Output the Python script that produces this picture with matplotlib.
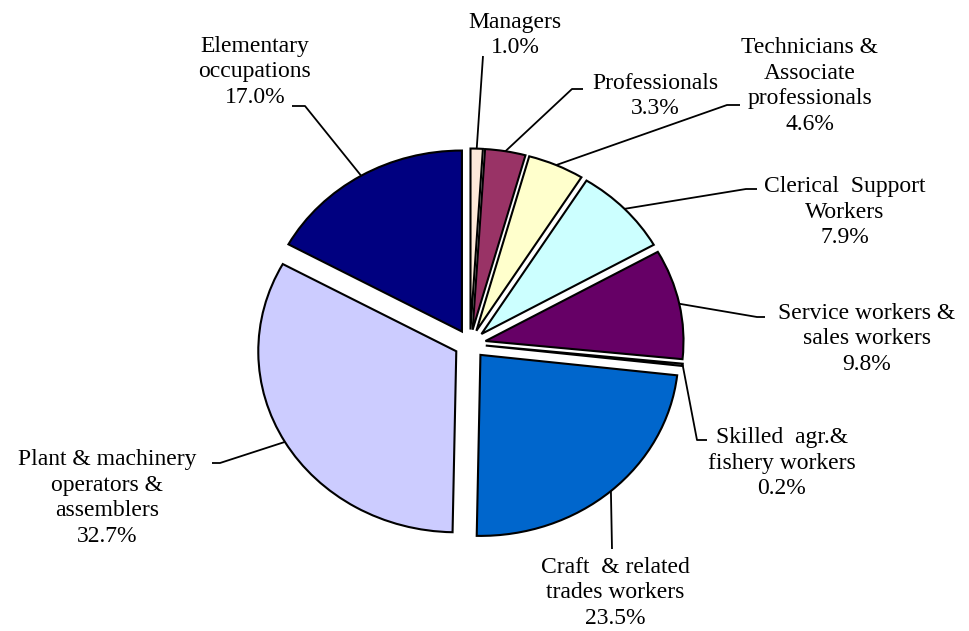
import numpy as np
import matplotlib.pyplot as plt

plt.rcParams['font.family'] = ['Liberation Serif', 'DejaVu Serif']

# occupation groups, clockwise from 12 o'clock
labels = ['Managers', 'Professionals', 'Technicians &\nAssociate\nprofessionals',
          'Clerical  Support\nWorkers', 'Service workers &\nsales workers',
          'Skilled  agr.&\nfishery workers', 'Craft  & related\ntrades workers',
          'Plant & machinery\noperators &\nassemblers', 'Elementary\noccupations']
shares = [1.0, 3.3, 4.6, 7.9, 9.8, 0.2, 23.5, 32.7, 17.0]
colors = ['#FDE9D9', '#993366', '#FFFFCC', '#CCFFFF', '#660066',
          '#FFFFFF', '#0066CC', '#CCCCFF', '#000080']

# pie centre / radii in picture pixels (pie is a bit wider than tall)
CX, CY, RX, RY = 470, 344, 198, 181
W, H = 969, 631

def px(x, y):
    return (x - CX) / RX, (CY - y) / RY

# label block centres and leader line bends (pixels)
label_pos = [(515, 35), (655, 96), (810, 86), (845, 212), (867, 339),
             (782, 463), (615, 593), (107, 498), (255, 72)]
leader_pts = [[(483, 56)],
              [(572, 89), (583, 89)],
              [(727, 105), (740, 105)],
              [(746, 189), (757, 189)],
              [(757, 317), (765, 317)],
              [(697, 440), (707, 440)],
              [(612, 549)],
              [(220, 463), (212, 463)],
              [(305, 106), (292, 106)]]

fig = plt.figure(figsize=(W / 100, H / 100), dpi=100)
ax = fig.add_axes([0, 0, 1, 1])

wedges, _ = ax.pie(shares, colors=colors, startangle=90, counterclock=False,
                   explode=[0.08] * len(shares),
                   wedgeprops=dict(edgecolor='black', linewidth=1.5))
ax.set_aspect('auto')
ax.set_xlim(-CX / RX, (W - CX) / RX)
ax.set_ylim(-(H - CY) / RY, CY / RY)
ax.axis('off')

for w, lab, v, pos, pts in zip(wedges, labels, shares, label_pos, leader_pts):
    mid = np.deg2rad((w.theta1 + w.theta2) / 2)
    x0 = w.center[0] + w.r * np.cos(mid)
    y0 = w.center[1] + w.r * np.sin(mid)
    xs = [x0] + [px(*p)[0] for p in pts]
    ys = [y0] + [px(*p)[1] for p in pts]
    ax.plot(xs, ys, color='black', lw=1.3, solid_capstyle='butt')
    ax.text(*px(*pos), '%s\n%.1f%%' % (lab, v), ha='center', va='center',
            multialignment='center', fontsize=17, linespacing=1.3)

fig.savefig('out.png', dpi=100)
